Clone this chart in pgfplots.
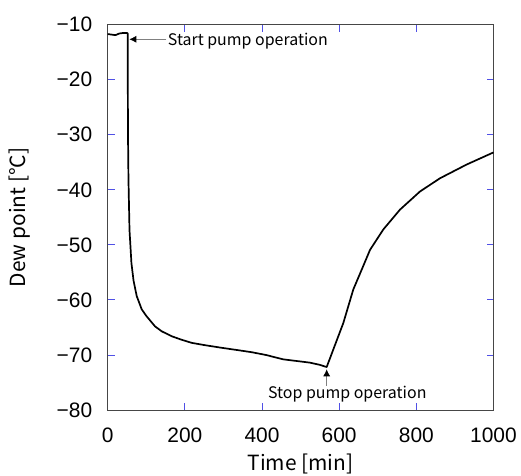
\documentclass[border=0pt]{standalone}
\usepackage{pgfplots}
\pgfplotsset{compat=1.18}
\usepackage{fontspec}
\usetikzlibrary{arrows.meta}
\setmainfont{Liberation Sans}
\newfontfamily\jp{Noto Sans CJK JP}
\definecolor{tickblue}{RGB}{80,80,230}
\definecolor{axgray}{RGB}{70,70,70}

\begin{document}
\begin{tikzpicture}
  \begin{axis}[
      name=ax,
      scale only axis,
      width=385.8bp, height=385.3bp,
      xmin=0, xmax=1000,
      ymin=-80, ymax=-10,
      xtick={0,200,400,600,800,1000},
      xticklabels={0,200,400,600,800,1000},
      ytick={-80,-70,-60,-50,-40,-30,-20,-10},
      yticklabels={−80,−70,−60,−50,−40,−30,−20,−10},
      tick align=inside,
      major tick length=7bp,
      tick style={tickblue, line width=0.9bp},
      axis line style={axgray, line width=1bp},
      ticklabel style={font=\fontsize{21}{24}\selectfont},
      xticklabel style={yshift=-14bp},
      yticklabel style={xshift=-12bp},
      xlabel={\jp\fontsize{21}{24}\selectfont Time [min]},
      ylabel={\jp\fontsize{21}{24}\selectfont Dew point [°C]},
      xlabel style={yshift=-5bp},
      ylabel style={yshift=20bp},
      clip=false,
    ]
    % dew point record
    \addplot[black, line width=1.7bp, line join=round] coordinates {
      (0,-11.7) (10,-11.8) (20,-11.9) (30,-11.6) (40,-11.5) (50,-11.5)
      (51.8,-11.6) (52.1,-20) (52.6,-30) (53.8,-38) (56.5,-47.3)
      (61.5,-53.3) (67,-56.5) (75.2,-59.3) (88.1,-61.7) (100,-62.9)
      (122.6,-64.8) (140,-65.7) (165.9,-66.6) (190,-67.2) (217.7,-67.8)
      (250,-68.2) (295.5,-68.7) (335,-69.1) (373.2,-69.5) (410,-70.0)
      (455.2,-70.8) (490,-71.1) (524.4,-71.4) (550,-71.8) (567.6,-72.2)
      (584.8,-69.0) (610.7,-64.2) (636.6,-58.1) (658.4,-54.5) (680,-50.9)
      (714.4,-47.2) (757.6,-43.6) (809.5,-40.3) (861.3,-37.9)
      (930.5,-35.4) (1000,-33.2)
    };
    \draw[gray, line width=0.8bp, -{Latex[black,length=7bp,width=7bp]}]
      (axis cs:152,-12.65) -- (axis cs:56,-12.65);
    \node[anchor=west, inner sep=1bp, font=\jp\fontsize{16}{18}\selectfont]
      at (axis cs:153,-13.0) {Start pump operation};
    \draw[gray, line width=0.8bp, -{Latex[black,length=7bp,width=7bp]}]
      (axis cs:567.6,-75.6) -- (axis cs:567.6,-72.6);
    \node[inner sep=1bp, font=\jp\fontsize{16}{18}\selectfont]
      at (axis cs:621,-77.2) {Stop pump operation};
  \end{axis}
  \pgfresetboundingbox
  \path[use as bounding box]
    ([shift={(-107.7bp,-66bp)}]ax.south west) rectangle
    ([shift={(27.5bp,24.7bp)}]ax.north east);
\end{tikzpicture}
\end{document}
